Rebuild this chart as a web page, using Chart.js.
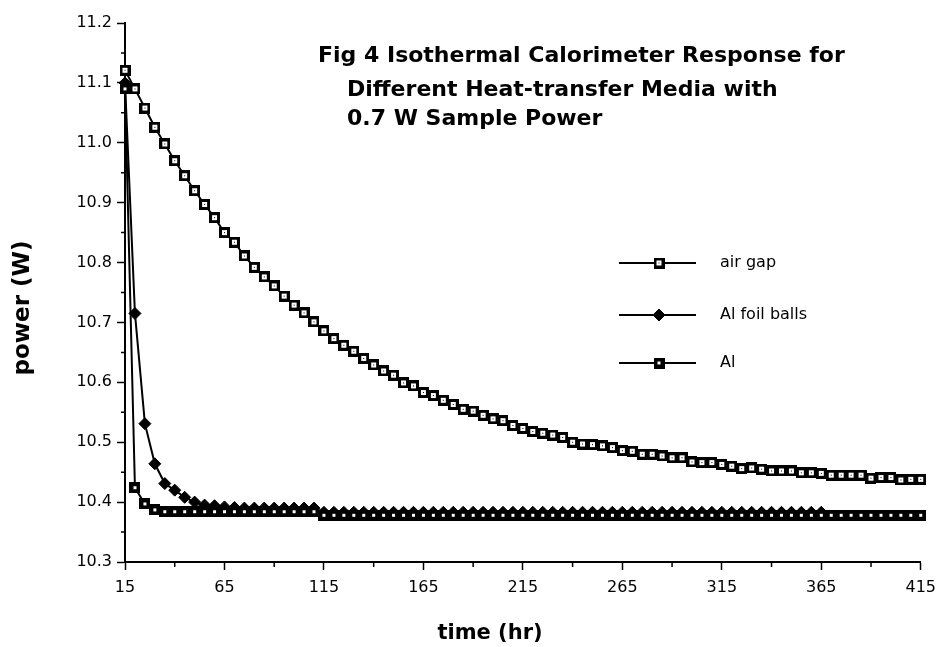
<!DOCTYPE html>
<html>
<head>
<meta charset="utf-8">
<title>Fig 4 Isothermal Calorimeter Response</title>
<script src="https://cdn.jsdelivr.net/npm/chart.js@4.4.1/dist/chart.umd.min.js"></script>
<style>
  html, body { margin: 0; padding: 0; background: #fff; }
  #grafico { display: block; }
</style>
</head>
<body>
<canvas id="grafico" width="944" height="647"></canvas>
<script>
// === Data ===
const horas = [
  15, 20, 25, 30, 35, 40, 45, 50, 55, 60, 65, 70, 75, 80, 85, 90, 95, 100, 105, 110,
  115, 120, 125, 130, 135, 140, 145, 150, 155, 160, 165, 170, 175, 180, 185, 190, 195, 200, 205, 210,
  215, 220, 225, 230, 235, 240, 245, 250, 255, 260, 265, 270, 275, 280, 285, 290, 295, 300, 305, 310,
  315, 320, 325, 330, 335, 340, 345, 350, 355, 360, 365, 370, 375, 380, 385, 390, 395, 400, 405, 410,
  415
];

const airGap = [
  11.121, 11.090, 11.058, 11.026, 10.998, 10.970, 10.945, 10.920, 10.897, 10.875,
  10.850, 10.834, 10.811, 10.792, 10.776, 10.761, 10.744, 10.729, 10.716, 10.701,
  10.686, 10.673, 10.662, 10.652, 10.640, 10.629, 10.619, 10.612, 10.599, 10.594,
  10.583, 10.578, 10.570, 10.563, 10.555, 10.552, 10.545, 10.539, 10.536, 10.528,
  10.523, 10.518, 10.515, 10.512, 10.508, 10.500, 10.497, 10.496, 10.494, 10.491,
  10.486, 10.485, 10.480, 10.480, 10.477, 10.474, 10.474, 10.467, 10.466, 10.466,
  10.463, 10.460, 10.456, 10.457, 10.455, 10.452, 10.452, 10.452, 10.449, 10.449,
  10.448, 10.445, 10.445, 10.445, 10.445, 10.440, 10.441, 10.441, 10.437, 10.438,
  10.438
];

// foil balls series stops at 365 hr
const alFoil = [
  11.100, 10.715, 10.531, 10.464, 10.431, 10.420, 10.408, 10.400, 10.395, 10.394,
  10.392, 10.391, 10.390, 10.390, 10.390, 10.390, 10.390, 10.390, 10.390, 10.390,
  10.383, 10.383, 10.383, 10.383, 10.383, 10.383, 10.383, 10.383, 10.383, 10.383,
  10.383, 10.383, 10.383, 10.383, 10.383, 10.383, 10.383, 10.383, 10.383, 10.383,
  10.383, 10.383, 10.383, 10.383, 10.383, 10.383, 10.383, 10.383, 10.383, 10.383,
  10.383, 10.383, 10.383, 10.383, 10.383, 10.383, 10.383, 10.383, 10.383, 10.383,
  10.383, 10.383, 10.383, 10.383, 10.383, 10.383, 10.383, 10.383, 10.383, 10.383,
  10.383
];

const al = [
  11.090, 10.424, 10.397, 10.387, 10.384, 10.384, 10.384, 10.384, 10.384, 10.384,
  10.384, 10.384, 10.384, 10.384, 10.384, 10.384, 10.384, 10.384, 10.384, 10.384,
  10.378, 10.378, 10.378, 10.378, 10.378, 10.378, 10.378, 10.378, 10.378, 10.378,
  10.378, 10.378, 10.378, 10.378, 10.378, 10.378, 10.378, 10.378, 10.378, 10.378,
  10.378, 10.378, 10.378, 10.378, 10.378, 10.378, 10.378, 10.378, 10.378, 10.378,
  10.378, 10.378, 10.378, 10.378, 10.378, 10.378, 10.378, 10.378, 10.378, 10.378,
  10.378, 10.378, 10.378, 10.378, 10.378, 10.378, 10.378, 10.378, 10.378, 10.378,
  10.378, 10.378, 10.378, 10.378, 10.378, 10.378, 10.378, 10.378, 10.378, 10.378,
  10.378
];

const xTicks = [15, 65, 115, 165, 215, 265, 315, 365, 415];
const xMinor = [40, 90, 140, 190, 240, 290, 340, 390];
const yTicks = [10.3, 10.4, 10.5, 10.6, 10.7, 10.8, 10.9, 11.0, 11.1, 11.2];
const yMinor = [10.35, 10.45, 10.55, 10.65, 10.75, 10.85, 10.95, 11.05, 11.15];

const titulo = ['Fig 4 Isothermal Calorimeter Response for', 'Different Heat-transfer Media with', '0.7 W Sample Power'];
const tituloX = 'time (hr)';
const tituloY = 'power (W)';

// === Helpers ===
function pontos(valores) {
  return valores.map((v, i) => ({ x: horas[i], y: v }));
}

// square marker: black frame, white inside, optional black dot
function marcaQuadrada(lado, dentro, ponto) {
  const c = document.createElement('canvas');
  c.width = lado;
  c.height = lado;
  const g = c.getContext('2d');
  g.fillStyle = '#000';
  g.fillRect(0, 0, lado, lado);
  g.fillStyle = '#fff';
  const o = (lado - dentro) / 2;
  g.fillRect(o, o, dentro, dentro);
  if (ponto) {
    g.fillStyle = '#000';
    const d = (lado - ponto) / 2;
    g.fillRect(d, d, ponto, ponto);
  }
  return c;
}

const marcaAirGap = marcaQuadrada(11, 5, 1);
const marcaAl = marcaQuadrada(11, 3, 0);

const fonte = 'DejaVu Sans';

// === Title, legend, axis titles, minor ticks ===
const extras = {
  id: 'extras',
  afterDraw(chart) {
    const ctx = chart.ctx;
    const x = chart.scales.x;
    const y = chart.scales.y;
    ctx.save();

    // minor ticks
    ctx.strokeStyle = '#000';
    ctx.lineWidth = 1.5;
    ctx.beginPath();
    yMinor.forEach(v => {
      const py = y.getPixelForValue(v);
      ctx.moveTo(chart.chartArea.left - 4, py);
      ctx.lineTo(chart.chartArea.left, py);
    });
    xMinor.forEach(v => {
      const px = x.getPixelForValue(v);
      ctx.moveTo(px, chart.chartArea.bottom);
      ctx.lineTo(px, chart.chartArea.bottom + 5);
    });
    ctx.stroke();

    ctx.fillStyle = '#000';
    ctx.textBaseline = 'alphabetic';
    ctx.textAlign = 'left';

    // title
    ctx.font = `bold 22px "${fonte}"`;
    ctx.fillText(titulo[0], 318, 62);
    ctx.fillText(titulo[1], 347, 96);
    ctx.fillText(titulo[2], 347, 125);

    // axis titles
    ctx.font = `bold 21px "${fonte}"`;
    ctx.textAlign = 'center';
    ctx.fillText(tituloX, 490, 639);
    ctx.save();
    ctx.translate(29, 308);
    ctx.rotate(-Math.PI / 2);
    ctx.font = `bold 23px "${fonte}"`;
    ctx.fillText(tituloY, 0, 0);
    ctx.restore();

    // legend
    const linhasLegenda = [263, 315, 363];
    ctx.font = `16px "${fonte}"`;
    ctx.textAlign = 'left';
    ctx.textBaseline = 'middle';
    chart.data.datasets.forEach((ds, i) => {
      const ly = linhasLegenda[i];
      ctx.strokeStyle = '#000';
      ctx.lineWidth = 2;
      ctx.beginPath();
      ctx.moveTo(619, ly);
      ctx.lineTo(696, ly);
      ctx.stroke();
      ctx.fillStyle = '#000';
      ctx.strokeStyle = '#000';
      ctx.lineWidth = 1;
      Chart.helpers.drawPoint(ctx, { pointStyle: ds.pointStyle, radius: ds.pointRadius, rotation: 0, borderWidth: 1 }, 659, ly);
      ctx.fillStyle = '#000';
      ctx.fillText(ds.label, 720, ly);
    });

    ctx.restore();
  }
};

// === Chart ===
new Chart(document.getElementById('grafico'), {
  type: 'line',
  data: {
    datasets: [
      {
        label: 'air gap',
        data: pontos(airGap),
        borderColor: '#000',
        borderWidth: 2,
        pointStyle: marcaAirGap,
        pointRadius: 5,
        tension: 0,
        clip: false,
        order: 0
      },
      {
        label: 'Al foil balls',
        data: pontos(alFoil),
        borderColor: '#000',
        backgroundColor: '#000',
        borderWidth: 2,
        pointStyle: 'rectRot',
        pointRadius: 6,
        pointBorderWidth: 1,
        pointBackgroundColor: '#000',
        pointBorderColor: '#000',
        tension: 0,
        clip: false,
        order: 2
      },
      {
        label: 'Al',
        data: pontos(al),
        borderColor: '#000',
        borderWidth: 2,
        pointStyle: marcaAl,
        pointRadius: 5,
        tension: 0,
        clip: false,
        order: 1
      }
    ]
  },
  options: {
    responsive: false,
    animation: false,
    events: [],
    layout: { padding: { top: 23, right: 19, left: 0, bottom: 0 } },
    plugins: {
      legend: { display: false },
      tooltip: { enabled: false }
    },
    scales: {
      x: {
        type: 'linear',
        min: 15,
        max: 415,
        afterBuildTicks: s => { s.ticks = xTicks.map(v => ({ value: v })); },
        afterFit: s => { s.height = 85; },
        border: { color: '#000', width: 2 },
        grid: { drawOnChartArea: false, tickColor: '#000', tickLength: 8, tickWidth: 1.5 },
        ticks: {
          color: '#000',
          font: { family: fonte, size: 16 },
          padding: 8,
          maxRotation: 0,
          autoSkip: false
        }
      },
      y: {
        type: 'linear',
        min: 10.3,
        max: 11.2,
        afterBuildTicks: s => { s.ticks = yTicks.map(v => ({ value: v })); },
        afterFit: s => { s.width = 125; },
        border: { color: '#000', width: 2 },
        grid: { drawOnChartArea: false, tickColor: '#000', tickLength: 8, tickWidth: 1.5 },
        ticks: {
          color: '#000',
          font: { family: fonte, size: 16 },
          padding: 5,
          callback: v => v.toFixed(1)
        }
      }
    }
  },
  plugins: [extras]
});
</script>
</body>
</html>
